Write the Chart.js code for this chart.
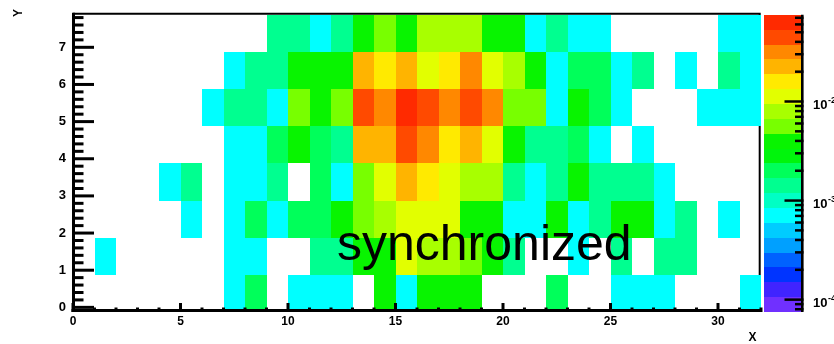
<!DOCTYPE html>
<html>
<head>
<meta charset="utf-8">
<script src="https://cdn.jsdelivr.net/npm/chart.js@4.4.0/dist/chart.umd.min.js"></script>
<style>
  html, body { margin: 0; padding: 0; background: #fff; }
  #c { display: block; }
</style>
</head>
<body>
<canvas id="c" width="834" height="344"></canvas>
<script>
// entries per bin, one array per y row (row0 = bottom), 32 x bins each
const row0 = [0,0,0,0,0,0,0,1,3,0,1,1,1,0,5,1,5,5,5,0,0,0,3,0,0,1,1,1,0,0,0,1];
const row1 = [0,1,0,0,0,0,0,1,1,0,0,2,2,5,5,15,11,11,8,5,2,0,0,1,0,2,0,2,2,0,0,0];
const row2 = [0,0,0,0,0,1,0,1,3,1,3,3,5,8,11,15,15,15,5,5,1,1,5,1,2,5,5,1,2,0,1,0];
const row3 = [0,0,0,0,1,2,0,1,1,2,0,3,1,8,15,30,21,15,11,11,2,1,2,5,2,2,2,1,0,0,0,0];
const row4 = [0,0,0,0,0,0,0,1,1,3,5,3,2,30,30,60,42,21,30,15,5,2,2,3,1,0,1,0,0,0,0,0];
const row5 = [0,0,0,0,0,0,1,2,2,1,8,5,8,60,42,100,60,42,60,42,8,8,1,5,3,1,0,0,0,1,1,1];
const row6 = [0,0,0,0,0,0,0,1,2,2,5,5,5,30,21,30,15,21,42,15,11,5,1,3,3,1,2,0,1,0,2,1];
const row7 = [0,0,0,0,0,0,0,0,0,2,2,1,2,5,8,5,11,11,11,5,5,1,2,1,1,0,0,0,0,0,1,1];
const rows = [row0, row1, row2, row3, row4, row5, row6, row7];
const NORM = 1333;          // total entries, histogram is normalised to it

const X_MIN = 0, X_MAX = 32;
const Y_EDGE0 = -0.125;     // lower edge of the first y bin
const Y_MAX = 7.875;
const xTicks = [0, 5, 10, 15, 20, 25, 30];
const yTicks = [0, 1, 2, 3, 4, 5, 6, 7];
const zTicks = [1e-4, 1e-3, 1e-2];
const zLabels = ['-4', '-3', '-2'];

// 20 contour colours, low to high
const palette = [
  '#7030ff', '#4024ff', '#0034ff', '#0062ff', '#00a0ff',
  '#00ccff', '#00ffff', '#00ffc4', '#00ff90', '#00ff5a',
  '#00f50c', '#08f400', '#78ff00', '#a8ff00', '#e2ff00',
  '#ffea00', '#ffb400', '#ff8800', '#ff4a00', '#ff2a00'
];
const NDIV = palette.length;

const cells = [];
rows.forEach((r, j) => r.forEach((n, i) => {
  if (n > 0) cells.push({x: i + 0.5, y: Y_EDGE0 + j + 0.5, v: n / NORM});
}));
const zMax = Math.max(...cells.map(c => c.v));
const zMin = zMax * 0.001;
const lzMax = Math.log10(zMax), lzMin = Math.log10(zMin);

function colorFor(v) {
  let k = Math.floor(NDIV * (Math.log10(v) - lzMin) / (lzMax - lzMin));
  k = Math.max(0, Math.min(NDIV - 1, k));
  return palette[k];
}

const FONT = "'Liberation Sans', Arial, Helvetica, sans-serif";

const hist2d = {
  id: 'hist2d',
  beforeDatasetsDraw(chart) {
    const {ctx, chartArea: a, scales: {x, y}} = chart;
    ctx.save();
    // frame (top and right)
    ctx.strokeStyle = '#000';
    ctx.lineWidth = 2;
    ctx.beginPath();
    ctx.moveTo(a.left, a.top - 1);
    ctx.lineTo(a.right - 1.3, a.top - 1);
    ctx.lineTo(a.right - 1.3, a.bottom);
    ctx.stroke();
    // bins
    chart.data.datasets[0].data.forEach(p => {
      const x0 = Math.round(x.getPixelForValue(p.x - 0.5));
      const x1 = Math.round(x.getPixelForValue(p.x + 0.5));
      const y0 = Math.round(y.getPixelForValue(p.y - 0.5));
      const y1 = Math.round(y.getPixelForValue(p.y + 0.5));
      ctx.fillStyle = colorFor(p.v);
      ctx.fillRect(x0, y1, x1 - x0, y0 - y1);
    });
    ctx.restore();
  },
  afterDatasetsDraw(chart) {
    const {ctx, chartArea: a, scales: {x, y, z}} = chart;
    ctx.save();
    ctx.strokeStyle = '#000';
    ctx.fillStyle = '#000';

    // x axis: line, major ticks every 5, minor every 1
    ctx.lineWidth = 3;
    ctx.beginPath();
    ctx.moveTo(a.left - 1.5, a.bottom - 1.5);
    ctx.lineTo(a.right, a.bottom - 1.5);
    ctx.stroke();
    for (let v = X_MIN; v <= X_MAX; v++) {
      const px = x.getPixelForValue(v);
      const len = v % 5 === 0 ? 9 : 4.5;
      ctx.beginPath();
      ctx.moveTo(px, a.bottom);
      ctx.lineTo(px, a.bottom - len);
      ctx.stroke();
    }

    // y axis: line, major ticks every 1, minor every 0.2
    ctx.beginPath();
    ctx.moveTo(a.left + 0.5, a.top - 2);
    ctx.lineTo(a.left + 0.5, a.bottom);
    ctx.stroke();
    for (let k = Math.ceil(Y_EDGE0 * 5); k <= Math.floor(Y_MAX * 5); k++) {
      const py = y.getPixelForValue(k / 5);
      const len = k % 5 === 0 ? 21 : 10.5;
      ctx.beginPath();
      ctx.moveTo(a.left, py);
      ctx.lineTo(a.left + len, py);
      ctx.stroke();
    }

    // colour scale
    const cbL = a.right + 3, cbR = a.right + 41;
    for (let k = 0; k < NDIV; k++) {
      const lo = Math.pow(10, lzMin + k * (lzMax - lzMin) / NDIV);
      const hi = Math.pow(10, lzMin + (k + 1) * (lzMax - lzMin) / NDIV);
      const y0 = Math.round(z.getPixelForValue(lo));
      const y1 = Math.round(z.getPixelForValue(hi));
      ctx.fillStyle = palette[k];
      ctx.fillRect(cbL, y1, cbR - cbL, y0 - y1);
    }
    ctx.fillStyle = '#000';
    ctx.lineWidth = 2.6;
    ctx.beginPath();
    ctx.moveTo(cbR + 0.3, a.top);
    ctx.lineTo(cbR + 0.3, a.bottom);
    ctx.stroke();
    ctx.lineWidth = 2.5;
    for (let e = -5; e <= -1; e++) {
      for (let m = 1; m <= 9; m++) {
        const v = m * Math.pow(10, e);
        if (v < zMin || v > zMax) continue;
        const py = z.getPixelForValue(v);
        const len = m === 1 ? 19 : 8.5;
        ctx.beginPath();
        ctx.moveTo(cbR + 1.5, py);
        ctx.lineTo(cbR + 1.5 - len, py);
        ctx.stroke();
      }
    }
    ctx.textAlign = 'left';
    ctx.textBaseline = 'alphabetic';
    zTicks.forEach((v, i) => {
      const py = z.getPixelForValue(v);
      ctx.font = 'bold 13px ' + FONT;
      ctx.fillText('10', cbR + 11, py + 7.5);
      const w = ctx.measureText('10').width;
      ctx.font = 'bold 9px ' + FONT;
      ctx.fillText(zLabels[i], cbR + 11 + w + 0.5, py + 1.5);
    });

    // axis titles
    ctx.font = 'bold 12px ' + FONT;
    ctx.textAlign = 'center';
    ctx.textBaseline = 'middle';
    ctx.fillText('X', 752.5, 338);
    ctx.save();
    ctx.translate(18.5, 13);
    ctx.rotate(-Math.PI / 2);
    ctx.fillText('Y', 0, 0);
    ctx.restore();

    // overlay label
    ctx.font = '50px ' + FONT;
    ctx.textAlign = 'left';
    ctx.textBaseline = 'alphabetic';
    ctx.fillText('synchronized', 337, 260);
    ctx.restore();
  }
};

new Chart(document.getElementById('c'), {
  type: 'scatter',
  data: {
    datasets: [{
      data: cells,
      pointRadius: 0,
      pointHoverRadius: 0,
      showLine: false
    }]
  },
  options: {
    responsive: false,
    devicePixelRatio: 1,
    animation: false,
    events: [],
    layout: { padding: { left: 0, right: 73, top: 8, bottom: 0 } },
    plugins: { legend: { display: false }, tooltip: { enabled: false } },
    scales: {
      x: {
        type: 'linear', min: X_MIN, max: X_MAX,
        grid: { display: false, drawTicks: false },
        border: { display: false },
        afterBuildTicks: s => { s.ticks = xTicks.map(v => ({value: v})); },
        afterFit: s => { s.height = 32; },
        ticks: {
          autoSkip: false, maxRotation: 0, padding: 2, color: '#000',
          font: { family: FONT, size: 12, weight: 'bold' }
        }
      },
      y: {
        type: 'linear', min: Y_EDGE0, max: Y_MAX,
        grid: { display: false, drawTicks: false },
        border: { display: false },
        afterBuildTicks: s => { s.ticks = yTicks.map(v => ({value: v})); },
        afterFit: s => { s.width = 73; },
        ticks: {
          autoSkip: false, padding: 7, color: '#000',
          font: { family: FONT, size: 13, weight: 'bold' }
        }
      },
      z: {
        type: 'logarithmic', position: 'right', display: false,
        min: zMin, max: zMax
      }
    }
  },
  plugins: [hist2d]
});
</script>
</body>
</html>
